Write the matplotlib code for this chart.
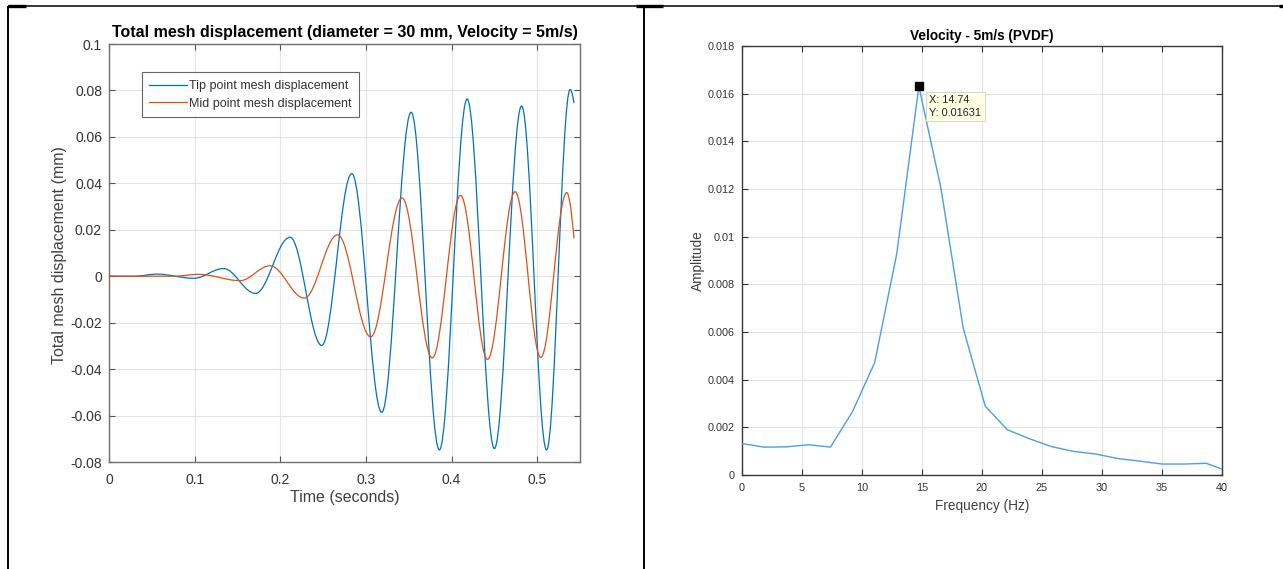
import matplotlib
matplotlib.use("Agg")
import matplotlib.pyplot as plt
from matplotlib.path import Path
from matplotlib.patches import PathPatch
from matplotlib.lines import Line2D
from matplotlib.ticker import FuncFormatter, MultipleLocator

plt.rcParams['font.family'] = ['Liberation Sans', 'DejaVu Sans']

# Turning points of the displacement histories (time in s, displacement in mm)
tip_time = [0.0, 0.030, 0.056, 0.099, 0.1336, 0.171, 0.2114, 0.2484, 0.2835,
            0.3185, 0.3528, 0.3858, 0.4182, 0.4500, 0.4818, 0.5110, 0.5385, 0.5430]
tip_disp = [0.0, 0.0, 0.0009, -0.0009, 0.0033, -0.0074, 0.0168, -0.0298, 0.0442,
            -0.0586, 0.0706, -0.0748, 0.0763, -0.0742, 0.0733, -0.0748, 0.0804, 0.0745]

mid_time = [0.0, 0.075, 0.105, 0.153, 0.188, 0.228, 0.267, 0.3056, 0.3422,
            0.3775, 0.4105, 0.4420, 0.4742, 0.5042, 0.5345, 0.5430]
mid_disp = [0.0, 0.0, 0.0008, -0.0019, 0.0045, -0.0094, 0.0178, -0.0261, 0.0337,
            -0.0352, 0.0348, -0.0358, 0.0364, -0.0350, 0.0360, 0.0163]

series_labels = ['Tip point mesh displacement', 'Mid point mesh displacement']

# Single-sided amplitude spectrum of the PVDF signal
freq_hz = [0.0, 1.84, 3.69, 5.53, 7.37, 9.21, 11.06, 12.90, 14.74, 16.58, 18.43,
           20.27, 22.11, 23.96, 25.80, 27.64, 29.48, 31.32, 33.17, 35.01, 36.85,
           38.69, 40.53]
amplitude = [0.00132, 0.00117, 0.00118, 0.00127, 0.00117, 0.00266, 0.00472,
             0.00929, 0.01631, 0.01203, 0.00617, 0.00289, 0.00190, 0.00152,
             0.00119, 0.00099, 0.00088, 0.00069, 0.00058, 0.00046, 0.00046,
             0.00049, 0.00015]
peak_index = 8

BLUE = '#0072BD'
ORANGE = '#D95319'
SPEC_BLUE = '#4d9ee3'
GRID = '#e4e4e4'


def turning_point_path(t, v, k=0.364):
    """Smooth cubic path through successive extrema (horizontal tangents)."""
    verts = [(t[0], v[0])]
    codes = [Path.MOVETO]
    n = len(t)
    for i in range(n - 1):
        t1, v1, t2, v2 = t[i], v[i], t[i + 1], v[i + 1]
        d = t2 - t1
        if i == n - 2:
            # last sample is not a turning point: leave the end free
            c1, c2 = (t1 + 0.5 * d, v1), (t2, v2)
        else:
            c1, c2 = (t1 + k * d, v1), (t2 - k * d, v2)
        verts += [c1, c2, (t2, v2)]
        codes += [Path.CURVE4] * 3
    return Path(verts, codes)


def fmt_g(x, pos):
    return '%g' % round(x, 6)


fig = plt.figure(figsize=(12.83, 5.69), dpi=100)
W, H = 1283.0, 569.0

# ---------------- left: displacement histories ----------------
ax1 = fig.add_axes([109 / W, 1 - 462 / H, 471 / W, 418 / H])
ax1.add_patch(PathPatch(turning_point_path(tip_time, tip_disp), fill=False,
                        edgecolor=BLUE, lw=0.9, zorder=3))
ax1.add_patch(PathPatch(turning_point_path(mid_time, mid_disp), fill=False,
                        edgecolor=ORANGE, lw=0.9, zorder=4))
ax1.set_xlim(0, 0.55)
ax1.set_ylim(-0.08, 0.1)
ax1.xaxis.set_major_locator(MultipleLocator(0.1))
ax1.yaxis.set_major_locator(MultipleLocator(0.02))
ax1.xaxis.set_major_formatter(FuncFormatter(fmt_g))
ax1.yaxis.set_major_formatter(FuncFormatter(fmt_g))
ax1.grid(True, color=GRID, lw=0.8)
ax1.set_axisbelow(True)
ax1.tick_params(direction='in', length=4, width=0.8, top=True, right=True,
                labelsize=10, colors='#555555', labelcolor='#333333')
ax1.tick_params(axis='x', pad=8)
ax1.tick_params(axis='y', pad=5)
for s in ax1.spines.values():
    s.set_color('#707070')
    s.set_linewidth(1.0)
ax1.set_title('Total mesh displacement (diameter = 30 mm, Velocity = 5m/s)',
              fontsize=11.5, fontweight='bold', pad=5)
ax1.set_xlabel('Time (seconds)', fontsize=11.5, color='#404040', va='center')
ax1.set_ylabel('Total mesh displacement (mm)', fontsize=11.5, color='#404040',
               va='center')
ax1.xaxis.set_label_coords(0.5, -0.086)
ax1.yaxis.set_label_coords(-0.106, 0.494)

handles = [Line2D([], [], color=BLUE, lw=0.9), Line2D([], [], color=ORANGE, lw=0.9)]
leg = ax1.legend(handles, series_labels, loc='upper left',
                 bbox_to_anchor=(0.070, 0.932), borderaxespad=0, fontsize=9,
                 frameon=True, fancybox=False, handlelength=3.0,
                 handletextpad=0.15, borderpad=0.6, labelspacing=0.45)
leg.get_frame().set_edgecolor('#404040')
leg.get_frame().set_linewidth(0.8)
for txt in leg.get_texts():
    txt.set_color('#333333')

# ---------------- right: amplitude spectrum ----------------
ax2 = fig.add_axes([742 / W, 1 - 475 / H, 480 / W, 429 / H])
ax2.plot(freq_hz, amplitude, color=SPEC_BLUE, lw=1.0, zorder=3)
pf, pa = freq_hz[peak_index], amplitude[peak_index]
ax2.plot([pf], [pa], 's', color='black', markersize=5.5, zorder=5, clip_on=False)
ax2.annotate('X: %.2f\nY: %.5f' % (pf, pa), xy=(pf, pa), xytext=(7.5, -6.5),
             textcoords='offset points', ha='left', va='top', fontsize=7.8,
             color='#222222', linespacing=1.35, zorder=6,
             bbox=dict(boxstyle='square,pad=0.3', fc='#ffffe4', ec='#d0d0c0',
                       lw=0.6))
ax2.set_xlim(0, 40)
ax2.set_ylim(0, 0.018)
ax2.xaxis.set_major_locator(MultipleLocator(5))
ax2.yaxis.set_major_locator(MultipleLocator(0.002))
ax2.xaxis.set_major_formatter(FuncFormatter(fmt_g))
ax2.yaxis.set_major_formatter(FuncFormatter(fmt_g))
ax2.grid(True, color=GRID, lw=0.8)
ax2.set_axisbelow(True)
ax2.tick_params(direction='in', length=4, width=0.8, top=True, right=True,
                labelsize=7.8, colors='#333333', labelcolor='#333333')
ax2.tick_params(axis='x', pad=6)
ax2.tick_params(axis='y', pad=5)
for s in ax2.spines.values():
    s.set_color('#3a3a3a')
    s.set_linewidth(1.0)
ax2.set_title('Velocity - 5m/s (PVDF)', fontsize=9.8, fontweight='bold', pad=4)
ax2.set_xlabel('Frequency (Hz)', fontsize=9.8, color='#404040', va='center')
ax2.set_ylabel('Amplitude', fontsize=9.8, color='#404040', va='center')
ax2.xaxis.set_label_coords(0.5, -0.072)
ax2.yaxis.set_label_coords(-0.092, 0.499)

# ---------------- table cell borders ----------------
def fig_line(x0, y0, x1, y1, lw):
    fig.add_artist(Line2D([x0 / W, x1 / W], [1 - y0 / H, 1 - y1 / H],
                          transform=fig.transFigure, color='black', lw=lw,
                          solid_capstyle='butt'))

fig_line(8, 6, 1283, 6, 1.1)
fig_line(8, 6, 8, 569, 1.4)
fig_line(644, 6, 644, 569, 1.4)
fig_line(8, 6, 26, 6, 2.4)
fig_line(636, 6, 663, 6, 2.4)
fig_line(1279, 6, 1283, 6, 2.4)

fig.savefig('out.png', dpi=100)
